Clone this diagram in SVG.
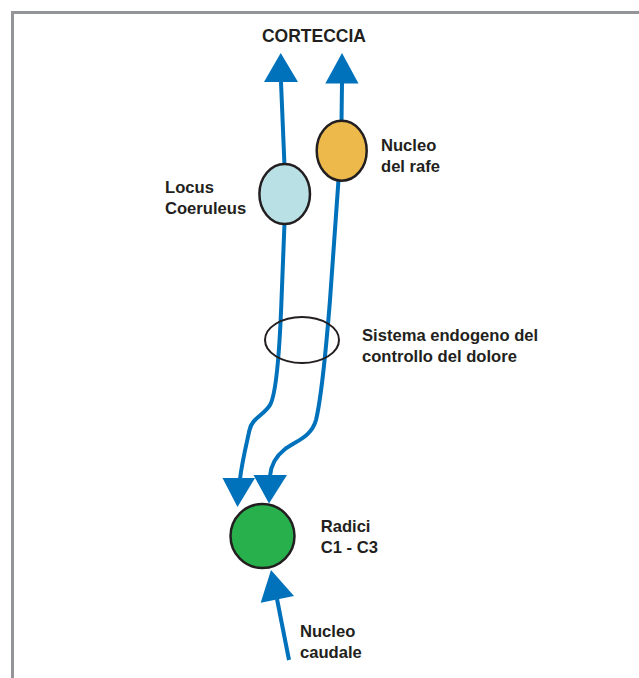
<svg xmlns="http://www.w3.org/2000/svg" width="639" height="678" viewBox="0 0 639 678">
  <style>
    .lbl { font-family: "Liberation Sans", Arial, sans-serif; font-weight: bold; font-size: 16.6px; fill: #231f20; }
    .title { font-size: 17.5px; }
    .fiber { fill: none; stroke: #0072bc; stroke-width: 4; stroke-linecap: butt; }
    .head { fill: #0072bc; }
    .node { stroke: #231f20; stroke-width: 2.5; }
  </style>

  <rect width="639" height="678" fill="#ffffff"/>
  <!-- frame -->
  <path d="M12.5,678 V12.5 H639" fill="none" stroke="#939598" stroke-width="3"/>

  <!-- connectors -->
  <g id="connectors">
    <!-- ascending fibers to the cortex -->
    <path class="fiber" d="M284.5,166 L281,82"/>
    <polygon class="head" points="280.7,53 264,82 298,82"/>
    <path class="fiber" d="M341.5,122 L342,83"/>
    <polygon class="head" points="342,53 325.3,83.5 358.5,83.5"/>

    <!-- descending fibers to the roots -->
    <path class="fiber" d="M284.5,223 L281.5,300 C280,340 277,393 270,405 C264,415 252,418 249.5,430 C246,446 242,462 240,479"/>
    <polygon class="head" points="237.5,507 222.5,478 255,478"/>
    <path class="fiber" d="M338.5,180 L330,300 C326,350 322,395 316,420 C311,438 295,441 284,450 C275,457 271,465 270,476"/>
    <polygon class="head" points="269,503.5 253.5,475 287,475"/>

    <!-- ascending from the caudal nucleus -->
    <path class="fiber" d="M289,660 L277,599"/>
    <polygon class="head" points="271,570 260.7,602.7 294,596"/>
  </g>

  <g id="locus-coeruleus">
    <ellipse class="node" cx="284.7" cy="194" rx="25.3" ry="30" fill="#b9e1e5"/>
    <text class="lbl" x="165" y="192.7">Locus</text>
    <text class="lbl" x="165" y="214.3">Coeruleus</text>
  </g>

  <g id="nucleo-rafe">
    <ellipse class="node" cx="341.7" cy="150.7" rx="25" ry="30" fill="#ecb94a"/>
    <text class="lbl" x="381" y="150.7">Nucleo</text>
    <text class="lbl" x="381" y="172.3">del rafe</text>
  </g>

  <g id="sistema-endogeno">
    <ellipse cx="302" cy="340" rx="37" ry="23" fill="none" stroke="#231f20" stroke-width="2"/>
    <text class="lbl" x="362" y="341">Sistema endogeno del</text>
    <text class="lbl" x="362" y="362.3">controllo del dolore</text>
  </g>

  <g id="radici">
    <circle class="node" cx="262.5" cy="536" r="32" fill="#27b04b"/>
    <text class="lbl" x="320.7" y="531.7">Radici</text>
    <text class="lbl" x="320.7" y="553.3">C1 - C3</text>
  </g>

  <g id="nucleo-caudale">
    <text class="lbl" x="300" y="636.7">Nucleo</text>
    <text class="lbl" x="300" y="658.3">caudale</text>
  </g>

  <g id="corteccia">
    <text class="lbl title" x="314" y="41.7" text-anchor="middle">CORTECCIA</text>
  </g>
</svg>
